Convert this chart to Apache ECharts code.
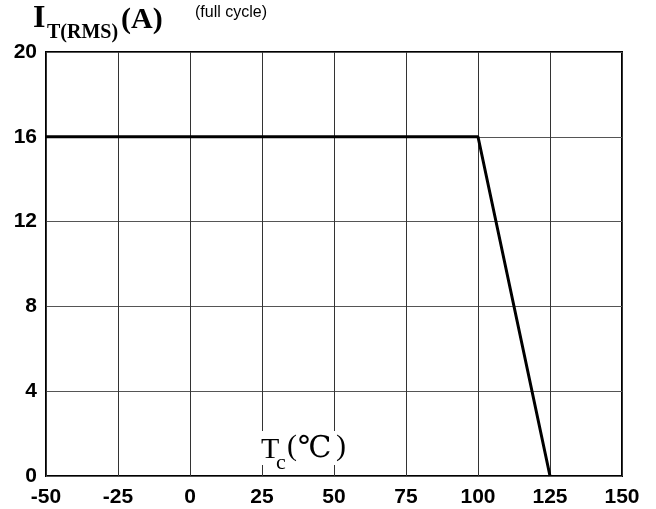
<!DOCTYPE html>
<html>
<head>
<meta charset="utf-8">
<script src="https://cdn.jsdelivr.net/npm/echarts@6/dist/echarts.min.js"></script>
<style>
  html, body { margin: 0; padding: 0; background: #fff; }
  #chart { width: 656px; height: 509px; }
</style>
</head>
<body>
<div id="chart"></div>
<script>
// case temperature (°C) vs. max RMS on-state current (A)
const tempC = [-50, 100, 125];
const currentA = [16, 16, 0];
const xTicks = [-50, -25, 0, 25, 50, 75, 100, 125, 150];
const yTicks = [0, 4, 8, 12, 16, 20];

const chart = echarts.init(document.getElementById('chart'));

const serif = '"Liberation Serif", "Times New Roman", serif';
const txt = (x, y, text, font, extra) => ({
    type: 'text',
    x: x,
    y: y,
    z: 20,
    style: Object.assign({ text: text, font: font, fill: '#000', verticalAlign: 'top' }, extra || {}),
});

const option = {
    animation: false,
    backgroundColor: '#fff',
    grid: {
        left: 46,
        right: 34,
        top: 52,
        bottom: 33,
        show: true,
        borderColor: '#000',
        borderWidth: 2,
    },
    graphic: [
        // y-axis title  I_T(RMS)(A)
        txt(33, 3, 'I', 'bold 32px ' + serif),
        txt(47, 23, 'T(RMS)', 'bold 20px ' + serif),
        txt(121, 5, '(A)', 'bold 30px ' + serif),
        txt(195, 5, '(full cycle)', '16px "Liberation Sans", Arial, sans-serif'),
        // x-axis title  Tc(℃) on a white patch
        {
            type: 'rect',
            z: 15,
            shape: { x: 256, y: 431, width: 94, height: 34 },
            style: { fill: '#fff' },
        },
        txt(261, 435, 'T', '30px ' + serif),
        txt(276, 452, 'c', '22px ' + serif),
        txt(287, 432, '(', '30px ' + serif),
        txt(298, 449, '℃', '30px "DejaVu Serif", "Noto Sans CJK SC"', { verticalAlign: 'middle' }),
        txt(336, 432, ')', '30px ' + serif),
    ],
    xAxis: {
        type: 'value',
        min: xTicks[0],
        max: xTicks[xTicks.length - 1],
        interval: 25,
        axisLine: { show: false },
        axisTick: { show: false },
        splitLine: { show: true, lineStyle: { color: '#333', width: 1 } },
        axisLabel: {
            margin: 11,
            color: '#000',
            fontFamily: 'Liberation Sans',
            fontWeight: 'bold',
            fontSize: 21,
            showMinLabel: true,
            showMaxLabel: true,
        },
    },
    yAxis: {
        type: 'value',
        min: yTicks[0],
        max: yTicks[yTicks.length - 1],
        interval: 4,
        axisLine: { show: false },
        axisTick: { show: false },
        splitLine: { show: true, lineStyle: { color: '#555', width: 1 } },
        axisLabel: {
            margin: 9,
            color: '#000',
            fontFamily: 'Liberation Sans',
            fontWeight: 'bold',
            fontSize: 21,
        },
    },
    series: [
        {
            type: 'line',
            data: tempC.map((t, i) => [t, currentA[i]]),
            symbol: 'none',
            lineStyle: { color: '#000', width: 3 },
            z: 5,
        },
    ],
};

chart.setOption(option);
</script>
</body>
</html>
